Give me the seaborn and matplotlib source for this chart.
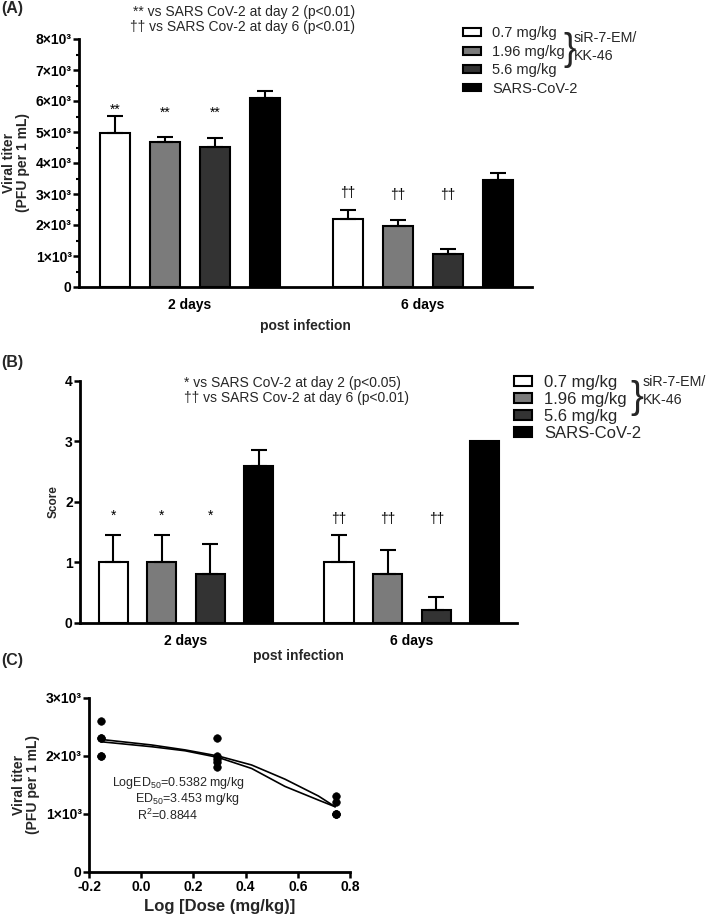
import numpy as np
import pandas as pd
import matplotlib
matplotlib.use("Agg")
import matplotlib.pyplot as plt
from matplotlib.ticker import MultipleLocator, FixedLocator, FuncFormatter
import seaborn as sns

# ---- data ----
days = ["2 days", "6 days"]
groups = ["0.7 mg/kg", "1.96 mg/kg", "5.6 mg/kg", "SARS-CoV-2"]
colors = ["white", "#7b7b7b", "#333333", "black"]

# (A) viral titer, PFU per 1 mL: mean and SEM of each group
titer_day2 = [4970, 4670, 4530, 6110]
titer_day6 = [2190, 1970, 1050, 3450]
titer_sem_day2 = [560, 180, 280, 220]
titer_sem_day6 = [280, 200, 180, 230]

# (B) score
score_day2 = [1.0, 1.0, 0.8, 2.6]
score_day6 = [1.0, 0.8, 0.2, 3.0]
score_sem_day2 = [0.45, 0.45, 0.5, 0.25]
score_sem_day6 = [0.45, 0.4, 0.22, 0.0]

# (C) dose response at day 6
dose_log = [-0.155, -0.155, -0.155, -0.155, -0.155,
            0.292, 0.292, 0.292, 0.292, 0.292,
            0.748, 0.748, 0.748, 0.748, 0.748]
dose_titer = [2600, 2300, 2300, 2000, 2000,
              2300, 2000, 1950, 1900, 1800,
              1300, 1200, 1000, 1000, 1000]
fit_x = [-0.153, 0.04, 0.168, 0.295, 0.423, 0.551, 0.679, 0.743]
fit_upper = [2280, 2185, 2100, 1995, 1840, 1595, 1305, 1120]
fit_lower = [2240, 2155, 2085, 1970, 1780, 1470, 1235, 1120]

sns.set_theme(style="ticks")
plt.rcParams["font.family"] = ["Liberation Sans", "DejaVu Sans"]
plt.rcParams["axes.linewidth"] = 2
plt.rcParams["mathtext.fontset"] = "custom"
plt.rcParams["mathtext.rm"] = "Liberation Sans"

W, H = 709, 917
fig = plt.figure(figsize=(W / 100, H / 100), dpi=100)


def fx(px):
    return px / W


def fy(py):
    return 1 - py / H


sci = FuncFormatter(lambda v, p: "0" if v == 0 else f"{int(round(v / 1000))}×10³")


def style_axes(ax):
    sns.despine(ax=ax)
    for s in ("left", "bottom"):
        ax.spines[s].set_color("black")
        ax.spines[s].set_linewidth(2)
    ax.tick_params(axis="y", which="major", length=4.3, width=1.8, color="black",
                   labelsize=10, pad=1)
    ax.tick_params(axis="y", which="minor", length=2.3, width=1.5, color="black")
    for lab in ax.get_yticklabels() + ax.get_xticklabels():
        lab.set_fontweight("bold")
        lab.set_color("black")


def bar_panel(ax, v2, v6, e2, e6, xpad):
    df = pd.DataFrame({"day": [days[0]] * 4 + [days[1]] * 4,
                       "group": groups * 2,
                       "value": v2 + v6})
    sns.barplot(data=df, x="day", y="value", hue="group", hue_order=groups,
                palette=colors, saturation=1, width=0.86, gap=0.4,
                edgecolor="black", linewidth=1.5, errorbar=None,
                legend=False, ax=ax)
    bars = list(ax.containers)
    for i, cont in enumerate(bars):
        for bar, err in zip(cont, [e2[i], e6[i]]):
            if err > 0:
                ax.errorbar(bar.get_x() + bar.get_width() / 2, bar.get_height(),
                            yerr=[[0], [err]], fmt="none", ecolor="black",
                            elinewidth=1.5, capsize=6, capthick=1.5, zorder=1)
    ax.set_xlabel("post infection", fontsize=10, fontweight="bold", labelpad=xpad)
    ax.tick_params(axis="x", length=0, labelsize=10, pad=8)
    return bars


def add_marks(ax, bars, texts, heights, size):
    for cont, txt, hs in zip(bars[:3], texts, heights):
        for bar, t, h in zip(cont, txt, hs):
            ax.text(bar.get_x() + bar.get_width() / 2, h, t, ha="center",
                    va="center", fontsize=size, color="black")


# ---------------- (A) ----------------
axA = fig.add_axes([fx(79), fy(287), fx(532) - fx(79), fy(39) - fy(287)])
barsA = bar_panel(axA, titer_day2, titer_day6, titer_sem_day2, titer_sem_day6, 5)
axA.set_xlim(-0.476, 1.468)
axA.set_ylim(0, 8000)
axA.yaxis.set_major_locator(MultipleLocator(1000))
axA.yaxis.set_minor_locator(MultipleLocator(500))
axA.yaxis.set_major_formatter(sci)
axA.set_ylabel("Viral titer\n(PFU per 1 mL)", fontsize=10, fontweight="bold",
               labelpad=4, linespacing=1.0)
style_axes(axA)
add_marks(axA, barsA, [["**", "††"]] * 3,
          [[5710, 3030], [5610, 2970], [5610, 2970]], 10)
axA.legend([c[0] for c in barsA], groups, loc="upper left",
           bbox_to_anchor=(fx(463), fy(26.5)),
           bbox_transform=fig.transFigure, frameon=False, fontsize=10.5,
           handlelength=1.2, handleheight=0.45, handletextpad=0.8,
           labelspacing=0.3, borderpad=0, borderaxespad=0)
fig.text(fx(563), fy(50), "}", fontsize=27, ha="left", va="center")
fig.text(fx(574), fy(38), "siR-7-EM/", fontsize=10.3, ha="left", va="center")
fig.text(fx(574), fy(56), "KK-46", fontsize=10.3, ha="left", va="center")
fig.text(fx(355), fy(12), "** vs SARS CoV-2 at day 2 (p<0.01)", fontsize=10,
         ha="right", va="center")
fig.text(fx(355), fy(27), "†† vs SARS Cov-2 at day 6 (p<0.01)", fontsize=10,
         ha="right", va="center")
fig.text(fx(1), fy(9), "(A)", fontsize=11.5, fontweight="bold", ha="left",
         va="center")

# ---------------- (B) ----------------
axB = fig.add_axes([fx(80), fy(622.5), fx(517) - fx(80), fy(381) - fy(622.5)])
barsB = bar_panel(axB, score_day2, score_day6, score_sem_day2, score_sem_day6, 1)
axB.set_xlim(-0.469, 1.465)
axB.set_ylim(0, 4)
axB.yaxis.set_major_locator(MultipleLocator(1))
axB.set_ylabel("Score", fontsize=8.5, fontweight="bold", labelpad=4)
style_axes(axB)
add_marks(axB, barsB, [["*", "††"]] * 3, [[1.77, 1.72]] * 3, 10)
axB.legend([c[0] for c in barsB], groups, loc="upper left",
           bbox_to_anchor=(fx(514), fy(375)),
           bbox_transform=fig.transFigure, frameon=False, fontsize=12,
           handlelength=1.1, handleheight=0.5, handletextpad=0.7,
           labelspacing=0.12, borderpad=0, borderaxespad=0)
fig.text(fx(630), fy(398), "}", fontsize=28, ha="left", va="center")
fig.text(fx(643), fy(382), "siR-7-EM/", fontsize=10.3, ha="left", va="center")
fig.text(fx(643), fy(400), "KK-46", fontsize=10.3, ha="left", va="center")
fig.text(fx(184), fy(383), "* vs SARS CoV-2 at day 2 (p<0.05)", fontsize=10,
         ha="left", va="center")
fig.text(fx(184), fy(398), "†† vs SARS Cov-2 at day 6 (p<0.01)", fontsize=10,
         ha="left", va="center")
fig.text(fx(1), fy(363), "(B)", fontsize=11.5, fontweight="bold", ha="left",
         va="center")

# ---------------- (C) ----------------
axC = fig.add_axes([fx(89), fy(871.7), fx(350) - fx(89), fy(697.7) - fy(871.7)])
sns.lineplot(x=fit_x, y=fit_upper, color="black", linewidth=1.2, ax=axC)
sns.lineplot(x=fit_x, y=fit_lower, color="black", linewidth=1.2, ax=axC)
sns.scatterplot(x=dose_log, y=dose_titer, color="black", s=30, edgecolor="black",
                zorder=3, ax=axC)
axC.set_xlim(-0.2, 0.8)
axC.set_ylim(0, 3000)
axC.xaxis.set_major_locator(FixedLocator([-0.2, 0.0, 0.2, 0.4, 0.6, 0.8]))
axC.xaxis.set_major_formatter(FuncFormatter(lambda v, p: f"{v:.1f}"))
axC.yaxis.set_major_locator(MultipleLocator(1000))
axC.yaxis.set_major_formatter(sci)
axC.tick_params(axis="x", length=4.3, width=1.8, color="black", labelsize=10, pad=2)
axC.set_xlabel("Log [Dose (mg/kg)]", fontsize=12, fontweight="bold", labelpad=3)
axC.set_ylabel("Viral titer\n(PFU per 1 mL)", fontsize=10, fontweight="bold",
               labelpad=4, linespacing=1.0)
style_axes(axC)
axC.text(0.141, 1525, "LogED$_{50}$=0.5382 mg/kg", fontsize=9, ha="center",
         va="center")
axC.text(0.177, 1245, "ED$_{50}$=3.453 mg/kg", fontsize=9, ha="center",
         va="center")
axC.text(0.103, 965, "R$^2$=0.8844", fontsize=9, ha="center", va="center")
fig.text(fx(1), fy(660), "(C)", fontsize=11.5, fontweight="bold", ha="left",
         va="center")

fig.savefig("out.png", dpi=100)
